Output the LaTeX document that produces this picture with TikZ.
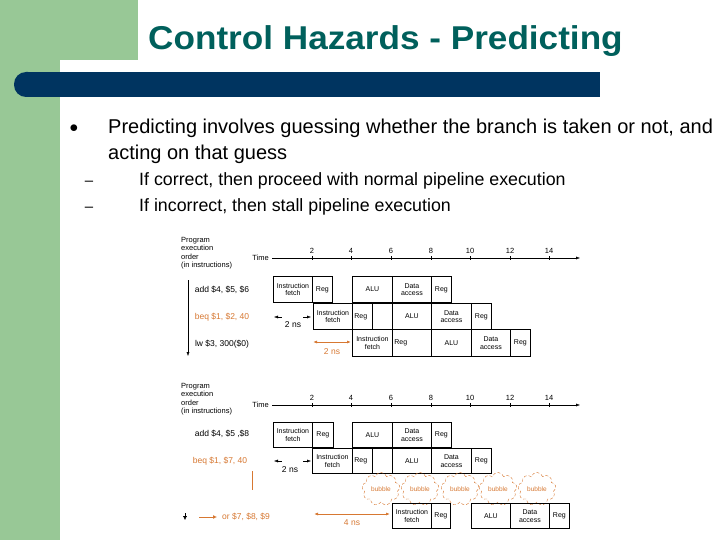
\documentclass[tikz,border=0pt]{standalone}
\usepackage{fontspec}
\setmainfont{Liberation Sans}
\usetikzlibrary{shapes.symbols,arrows.meta}
\definecolor{slgreen}{RGB}{152,200,150}
\definecolor{slblue}{RGB}{0,52,96}
\definecolor{titlec}{RGB}{0,96,92}
\definecolor{orng}{RGB}{215,120,50}
\tikzset{
 stage/.style={draw,thick,minimum height=#1,inner sep=0pt,font=\fontsize{7}{7.5}\selectfont,align=center,anchor=north west},
 lbl/.style={font=\fontsize{8.5}{9}\selectfont,inner sep=0pt},
 small/.style={font=\fontsize{7.5}{8.5}\selectfont,inner sep=0pt,align=left},
 tarr/.style={-{Latex[length=4pt,width=3pt]},thin},
 darr/.style={{Latex[length=4pt,width=3pt]}-{Latex[length=4pt,width=3pt]}},
 bub/.style={cloud,cloud puffs=9,draw=orng,densely dashed,thin,minimum width=38pt,minimum height=22pt,inner sep=0pt,font=\fontsize{6.5}{7}\selectfont,text=orng}
}
\begin{document}
\begin{tikzpicture}[x=1pt,y=-1pt]
\useasboundingbox (0,0) rectangle (720,540);
\fill[white] (0,0) rectangle (720,540);
% decoration
\fill[slgreen] (0,0) rectangle (138,60);
\fill[slgreen] (0,60) rectangle (60,540);
\fill[white] (60,60) rectangle (138,90);
\fill[slgreen] (60,60) -- (75,60) arc[start angle=90,end angle=180,radius=15] -- cycle;
\fill[slblue,rounded corners=12pt] (14,72) rectangle (40,97);
\fill[slblue] (25,72) rectangle (600,97);
\node[text=titlec,font=\fontsize{33}{35}\bfseries,anchor=west,inner sep=0pt,xscale=1.065] (title) at (148,41) {Control Hazards - Predicting};
% bullets
\node[font=\fontsize{16}{16}\selectfont] (b1) at (74,129) {$\bullet$};
\node[anchor=north west,font=\fontsize{20}{26}\selectfont,align=left,inner sep=0pt] (t1) at (108,119) {Predicting involves guessing whether the branch is taken or not, and\\acting on that guess};
\node[font=\fontsize{15}{16}\selectfont] (d1) at (89,183) {--};
\node[font=\fontsize{15}{16}\selectfont] (d2) at (89,209) {--};
\node[anchor=west,font=\fontsize{17.8}{18}\selectfont,inner sep=0pt] (s1) at (139,181) {If correct, then proceed with normal pipeline execution};
\node[anchor=west,font=\fontsize{17.8}{18}\selectfont,inner sep=0pt] (s2) at (139,207) {If incorrect, then stall pipeline execution};

% ---------- top diagram ----------
\node[small,anchor=north west] (peo1) at (181,237) {Program\\execution\\order\\(in instructions)};
\node[small,anchor=east] (time1) at (269,258) {Time};
\coordinate (ax1a) at (272,258); \coordinate (ax1b) at (580,258);
\draw[tarr] (ax1a) -- (ax1b);
\foreach \t/\x in {2/312,4/351,6/391,8/431,10/470,12/510,14/549}{
  \node[small] (tk1\t) at (\x,251) {\t};
  \draw (\x,256) -- (\x,260);}
\coordinate (vo1a) at (188,280); \coordinate (vo1b) at (188,356);
\draw[tarr] (vo1a) -- (vo1b);
\node[lbl] (i11) at (222,290) {add \$4, \$5, \$6};
\node[lbl,text=orng] (i12) at (222,317) {beq \$1, \$2, 40};
\node[lbl] (i13) at (222,344) {lw \$3, 300(\$0)};
% row1
\node[stage=26pt,minimum width=39pt] (a1) at (273,276) {Instruction\\fetch};
\node[stage=26pt,minimum width=20pt] (a2) at (312,276) {Reg};
\node[stage=26pt,minimum width=40pt] (a3) at (352,276) {ALU};
\node[stage=26pt,minimum width=39pt] (a4) at (392,276) {Data\\access};
\node[stage=26pt,minimum width=20pt] (a5) at (431,276) {Reg};
% row2
\node[stage=26pt,minimum width=39pt] (b1s) at (313,303) {Instruction\\fetch};
\node[stage=26pt,minimum width=40pt,text width=36pt,align=left] (b2) at (352,303) {Reg};
\node[stage=26pt,minimum width=39pt] (b3) at (392,303) {ALU};
\node[stage=26pt,minimum width=40pt] (b4) at (431,303) {Data\\access};
\node[stage=26pt,minimum width=20pt] (b5) at (471,303) {Reg};
\draw[thick] (372,303) -- (372,329);
% row3
\node[stage=27pt,minimum width=40pt] (c1) at (352,329) {Instruction\\fetch};
\node[stage=27pt,minimum width=39pt,text width=35pt,align=left] (c2) at (392,329) {Reg};
\node[stage=27pt,minimum width=40pt] (c3) at (431,329) {ALU};
\node[stage=27pt,minimum width=39pt] (c4) at (471,329) {Data\\access};
\node[stage=27pt,minimum width=20pt] (c5) at (510,329) {Reg};
\coordinate (n1a) at (274,317); \coordinate (n1b) at (311,317);
\draw[darr,shorten >=0pt] (n1a) -- (n1b);
\fill[white] (282,311) rectangle (303,323);
\node[lbl] (ns1) at (293,325) {2 ns};
\coordinate (o1a) at (313,342); \coordinate (o1b) at (351,342);
\draw[darr,orng,thick] (o1a) -- (o1b);
\node[lbl,text=orng] (os1) at (332,352) {2 ns};

% ---------- bottom diagram ----------
\node[small,anchor=north west] (peo2) at (181,383) {Program\\execution\\order\\(in instructions)};
\node[small,anchor=east] (time2) at (269,405) {Time};
\coordinate (ax2a) at (272,405); \coordinate (ax2b) at (580,405);
\draw[tarr] (ax2a) -- (ax2b);
\foreach \t/\x in {2/312,4/351,6/391,8/431,10/470,12/510,14/549}{
  \node[small] (tk2\t) at (\x,398) {\t};
  \draw (\x,403) -- (\x,407);}
\node[lbl] (i21) at (222,434) {add \$4, \$5 ,\$8};
\node[lbl,text=orng] (i22) at (220,461) {beq \$1, \$7, 40};
\node[lbl,text=orng,anchor=west] (i23) at (222,517) {or \$7, \$8, \$9};
\coordinate (vl1) at (252,471); \coordinate (vl2) at (252,490);
\draw[orng,thick] (vl1) -- (vl2);
\coordinate (dn1) at (185,513); \coordinate (dn2) at (185,520);
\draw[-{Latex[length=4pt,width=4pt]}] (dn1) -- (dn2);
\coordinate (oa1) at (199,517); \coordinate (oa2) at (217,517);
\draw[orng,thick,-{Latex[length=4pt,width=4pt]}] (oa1) -- (oa2);
% row1
\node[stage=25pt,minimum width=39pt] (d1s) at (273,422) {Instruction\\fetch};
\node[stage=25pt,minimum width=21pt] (d2s) at (312,422) {Reg};
\node[stage=25pt,minimum width=40pt] (d3) at (352,422) {ALU};
\node[stage=25pt,minimum width=39pt] (d4) at (392,422) {Data\\access};
\node[stage=25pt,minimum width=20pt] (d5) at (431,422) {Reg};
% row2
\node[stage=25pt,minimum width=40pt] (e1) at (312,448) {Instruction\\fetch};
\node[stage=25pt,minimum width=40pt,text width=36pt,align=left] (e2) at (352,448) {Reg};
\node[stage=25pt,minimum width=39pt] (e3) at (392,448) {ALU};
\node[stage=25pt,minimum width=40pt] (e4) at (431,448) {Data\\access};
\node[stage=25pt,minimum width=20pt] (e5) at (471,448) {Reg};
\draw[thick] (372,448) -- (372,473);
% bubbles
\foreach \x/\n in {381/1,420/2,460/3,498/4,537/5}{
  \node[bub] (bb\n) at (\x,489) {bubble};}
% row3
\node[stage=25pt,minimum width=39pt] (f1) at (392,503) {Instruction\\fetch};
\node[stage=25pt,minimum width=19pt] (f2) at (431,503) {Reg};
\node[stage=25pt,minimum width=39pt] (f3) at (471,503) {ALU};
\node[stage=25pt,minimum width=39pt] (f4) at (510,503) {Data\\access};
\node[stage=25pt,minimum width=20pt] (f5) at (549,503) {Reg};
\coordinate (n2a) at (274,461); \coordinate (n2b) at (311,461);
\draw[darr] (n2a) -- (n2b);
\fill[white] (282,455) rectangle (303,467);
\node[lbl] (ns2) at (290,470) {2 ns};
\coordinate (o2a) at (314,514); \coordinate (o2b) at (390,514);
\draw[darr,orng,thick] (o2a) -- (o2b);
\node[lbl,text=orng] (os2) at (352,523) {4 ns};
\end{tikzpicture}
\end{document}
